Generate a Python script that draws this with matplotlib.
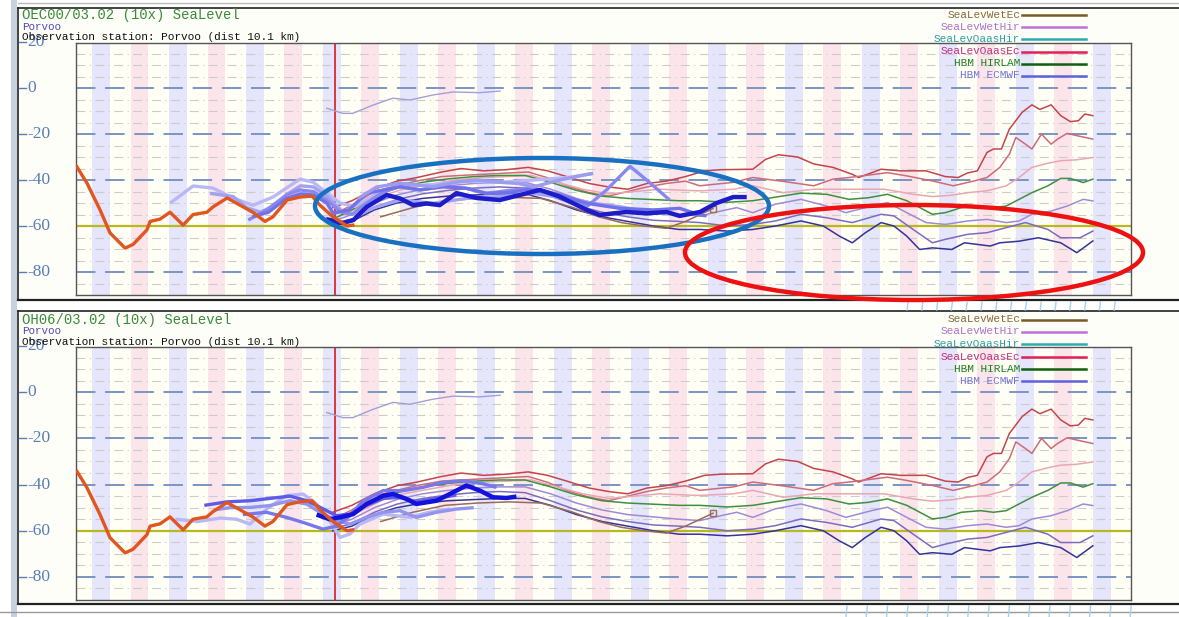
import numpy as np
import matplotlib
matplotlib.use('Agg')
import matplotlib.pyplot as plt
from matplotlib.patches import Ellipse, Rectangle
from matplotlib.transforms import blended_transform_factory

# time axis in hours (12 h between shaded bands), sea level in cm
t_max = 328.9
t_now = 80.7
y_ticks = [20, 0, -20, -40, -60, -80]
y_tick_labels = ['20', '0', '-20', '-40', '-60', '-80']

# observation (same in both panels)
obs_t = [0.3, 3.4, 7.5, 10.6, 15.3, 17.8, 22.1, 23.1, 26.2, 29.3, 33.4, 36.5, 40.8, 42.7,
         47.1, 51.1, 55.1, 58.9, 61.4, 65.8, 69.8, 73.6, 76.1, 80.1, 84.5, 86.3]
obs_v = [-34.3, -41.3, -53, -63, -69.6, -68, -61.7, -58, -57, -54, -59.6, -55, -54, -51.7,
         -47.8, -50.9, -54, -58, -56, -48.7, -47.4, -47, -51, -56, -60, -59.6]

# thin line near zero
thin_t = [78.2, 83.2, 86.3, 92.6, 98.8, 104.1, 111.3, 117.5, 125.9, 132.2]
thin_v = [-8.8, -11, -11, -7.4, -4.4, -5.2, -3, -1.7, -2, -1.3]

# forecast lines (shared by both panels)
fc_a_t = [80, 86, 93, 100, 106, 114, 120, 127, 134, 141, 147, 153, 160, 166, 172, 178, 184, 190,
          196, 201, 211, 215, 219, 225, 230, 236, 242, 244, 251, 257, 265, 271, 275, 278, 281,
          284, 286, 288.5, 291, 295, 298, 300.5, 304, 307, 310, 312.5, 314.5, 317]
fc_a_v = [-52, -49, -44, -40.5, -39, -36.5, -35, -36, -35.5, -34.5, -36, -38.5, -41.5, -43, -44,
          -41.5, -40.5, -38.5, -36, -35.5, -35.3, -31, -29, -30, -33, -34.5, -37.5, -38.9, -35.3,
          -36, -36, -38.5, -38.9, -36.9, -36, -28, -26.5, -26.5, -17.8, -10.5, -7.3, -9.3, -7.3,
          -12, -14.6, -14.2, -11.3, -12]
fc_b_t = [80, 86, 93, 100, 106, 114, 120, 127, 134, 141, 147, 153, 160, 166, 172, 178, 184, 190,
          194.5, 205, 211, 220, 230, 236, 241, 245, 253, 259, 267, 273.5, 280, 284, 288, 291, 293,
          296, 298, 301, 304, 306, 309, 312, 317]
fc_b_v = [-55, -51, -45, -42.5, -40.5, -38.5, -38, -37.5, -37, -36.5, -39, -42.5, -45.5, -47, -45,
          -43, -41.5, -40.5, -42.5, -41, -38.9, -40.5, -42.5, -39.6, -38.9, -38.2, -36.8, -38.2,
          -40.4, -42.5, -40.4, -38.9, -34.5, -28.7, -21.5, -24.4, -26.5, -20, -24.4, -22.2, -19.7,
          -20.7, -22.2]
fc_c_t = [82, 88, 95, 102, 110, 118, 126, 134, 142, 150, 158, 166, 174, 182, 190, 194.5, 205, 211,
          220.5, 230, 241, 252, 261, 267, 273, 278, 284, 290, 294, 298, 303, 307, 312, 317]
fc_c_v = [-56, -52, -47, -44, -42, -40, -39, -38.5, -38, -41, -44, -46, -45, -44, -44.5, -44.7, -44,
          -42.5, -45.5, -44, -44, -44, -46.2, -47.2, -46.6, -45.5, -44.7, -42.5, -38.9, -34.5,
          -32.7, -31.6, -31.2, -30.2]
fc_d_t = [80, 86, 93, 100, 108, 116, 124, 132, 140, 148, 156, 164, 172, 180, 188, 194.5, 203, 211,
          220.5, 226, 234, 241, 247, 253, 259, 267, 271, 276, 282, 286, 290, 294, 298, 303, 307,
          310, 314, 317]
fc_d_v = [-57, -53, -47, -43.5, -41, -39.5, -38.5, -38, -38, -41, -44.5, -47, -48, -48.5, -49, -49,
          -49.7, -49, -46.9, -45.7, -46.2, -48.4, -47.7, -46.2, -49, -54.9, -54.2, -52, -51.3, -52,
          -51.3, -48.4, -45.5, -42.5, -39.3, -39.3, -41.1, -39.6]
fc_e_t = [80, 86, 93, 100, 108, 116, 124, 132, 140, 148, 156, 164, 172, 180, 188, 194.5, 201, 206,
          211, 218, 226, 234, 240, 248, 253, 259, 265, 271, 278, 284, 290, 294, 298, 304, 309, 314,
          317]
fc_e_v = [-58, -55, -50, -46.5, -44, -42.5, -41.5, -41, -41, -44, -48, -51, -53, -54, -55, -55.6,
          -53.5, -52, -54.2, -50.5, -48.4, -51.3, -54.2, -51.3, -49.8, -54.2, -58.5, -59.3, -57.8,
          -57.1, -58.5, -57.8, -54.9, -53.5, -51.3, -48.4, -49.1]
fc_f_t = [80, 86, 93, 100, 108, 116, 124, 132, 140, 148, 156, 164, 172, 180, 188, 194.5, 203, 211,
          218, 226, 234, 242, 251, 255, 261, 267, 271, 278, 284, 290, 296, 303, 307, 313, 317]
fc_f_v = [-59, -57, -52, -48.5, -46, -44.5, -43.5, -43, -43.5, -47, -51, -54, -56, -57.5, -58,
          -58.5, -60, -59.3, -57.8, -54.9, -56.4, -58.5, -54.9, -55.6, -61.5, -67.3, -65.8, -63.6,
          -62.9, -60.7, -58.5, -61.5, -65.1, -65.1, -62.2]
fc_g_t = [80, 86, 93, 100, 108, 116, 124, 132, 140, 148, 156, 164, 172, 180, 188, 194.5, 203, 211,
          218, 226, 233, 238, 242, 246, 251, 255, 259, 263, 267, 273, 277, 281, 285, 288, 294, 300,
          307, 312, 317]
fc_g_v = [-60, -58, -53, -50, -48, -47, -46.5, -46, -46, -49, -53, -56, -58, -60, -61.5, -61.5,
          -62.2, -61.5, -60, -57.8, -60, -64.4, -67.3, -63, -58.5, -60, -64.4, -70.2, -69.5, -70.2,
          -67.3, -68, -68.7, -67.3, -66.6, -65.1, -67.3, -71.6, -66.5]
fc_h_t = [95, 105, 115, 125, 135, 145, 155, 163, 170, 177, 184, 190, 198.6]
fc_h_v = [-56, -52, -49, -48, -47.5, -48, -52, -56, -58.5, -60, -61, -58, -52.4]

fc_lines = [(fc_a_t, fc_a_v, '#c4444c'), (fc_b_t, fc_b_v, '#cf6a78'), (fc_c_t, fc_c_v, '#eaa6b4'),
            (fc_d_t, fc_d_v, '#3f8f3f'), (fc_e_t, fc_e_v, '#a08ad8'), (fc_f_t, fc_f_v, '#7c6cc0'),
            (fc_g_t, fc_g_v, '#33339a'), (fc_h_t, fc_h_v, '#9a6a5a')]

# earlier runs, upper panel (OEC00)
up_1_t = [29.3, 36.5, 42.7, 48.9, 55.2, 61.4, 69.8, 73.9, 78.2, 82.3, 87, 93.7, 101, 111.4, 121.7,
          132.1, 142.5, 152.9, 161.2]
up_1_v = [-50.1, -42.6, -43.5, -47.8, -51, -47.4, -39.6, -40.9, -45.6, -50, -51.5, -46, -42.5, -42,
          -40.5, -41, -40, -39, -37.1]
up_2_t = [41.8, 49, 53.2, 57.5, 62, 66, 70, 74, 78.2, 83.3, 88, 93.7, 101, 111.4, 121.7, 132.1,
          142.5, 152.9, 161.2, 169.5, 177.9, 184.1]
up_2_v = [-45.8, -47.2, -52, -54, -51, -46, -42.5, -43, -47, -54, -55, -51.6, -48.7, -50.1, -48,
          -47.2, -45.8, -48, -50.1, -51.6, -53.7, -54.5]
up_3_t = [53.7, 59.4, 65.6, 69.8, 74, 78.2, 82.3, 86, 90.6, 96, 101, 107.2, 114.5, 121.7, 128, 135,
          142.5, 150.8, 155, 159.2, 165.4, 172.7, 177.9, 185.1]
up_3_v = [-57.4, -53, -46.5, -44.3, -45, -48.7, -53.7, -55, -50, -45, -42.9, -44.3, -42.9, -43.6,
          -45.8, -44.5, -43.6, -46.5, -49, -51.6, -44.3, -34, -40, -48.7]
up_4_t = [55, 60, 65.6, 70, 74, 78.2, 80.2, 85, 90.6, 101, 107.2, 114.5, 121.7, 128, 135, 142.5,
          150.8, 159.2, 169.5, 180, 188.2, 194.5, 196.6]
up_4_v = [-56, -54, -48, -46, -46.5, -50, -54.5, -53, -45.8, -42.9, -44.3, -42.9, -43.6, -45.8,
          -45.5, -43.6, -46.5, -50.1, -52.3, -53, -52.3, -55.2, -55.6]
up_5_t = [88, 93.7, 101, 111.4, 118, 125, 132, 138, 142.5, 150.8, 156, 161.2]
up_5_v = [-48, -43, -41.4, -42.9, -41, -40, -41, -41.5, -43, -40, -38.5, -37.1]
up_6_t = [78, 83.1, 86.5, 90.6, 96.8, 101, 105.1, 109.3, 113.4, 118.6, 124.9, 132.1, 138.4, 144.6,
          150.8, 159.2, 163.3, 167.5, 171.6, 177.9, 184.1, 188.2, 194.5, 199.7, 204.9, 209.1]
up_6_v = [-57, -58.7, -57.4, -51.7, -46.5, -48, -50.9, -50.2, -50.9, -45.7, -47.8, -48.7, -46.5,
          -44.3, -47.2, -53, -55.2, -54.5, -53.9, -54.5, -53.9, -55.6, -53.9, -50, -47.4, -47.4]

# earlier runs, lower panel (OH06)
lo_1_t = [31, 38, 45, 50, 54.2, 59.4, 65.6, 70.8, 75, 79.1, 82.3, 85.4, 88.5, 95.8, 104.1, 110, 116.5]
lo_1_v = [-55, -56, -54.5, -55, -57.1, -50.6, -44.8, -44.1, -48.4, -55.7, -62.9, -61.4, -57.1, -52.8,
          -54.2, -52, -50.6]
lo_2_t = [43, 48, 54.2, 60.4, 66.7, 72, 77, 81.2, 85.4, 90.6, 95.8, 101, 106.1, 112.4, 118.6, 124]
lo_2_v = [-51, -50, -49.9, -49.1, -47, -48.5, -52.8, -55.7, -57.1, -54.2, -52, -51.3, -54.2, -52,
          -50.6, -50]
lo_3_t = [52, 59.4, 65.6, 70.8, 77, 81.2, 85, 89.5, 95.8, 102, 108.2, 114.5, 120.7, 127, 131.1]
lo_3_v = [-53, -52, -54.2, -56.4, -59.3, -58, -54, -47, -42.6, -42.6, -41.2, -39, -38.3, -39.7, -41.2]
lo_4_t = [40, 47, 54.2, 60.4, 66.7, 72, 77, 81.2, 85.4, 90.6, 95.8, 101, 106.1, 112.4, 118.6]
lo_4_v = [-49, -47.5, -47, -46, -45, -47, -50.5, -53.5, -52.8, -49, -46, -45.5, -47.5, -46, -44.5]
lo_5_t = [75, 79, 82.3, 86.4, 90.6, 95.8, 98.9, 103, 106.1, 112.4, 116.5, 121.7, 125.9, 130, 134.2,
          137.3]
lo_5_v = [-53, -55, -54.2, -52.8, -48.4, -44.8, -44.1, -46.2, -48.4, -47, -44.1, -40.4, -42.6, -45.5,
          -45.8, -45.2]

upper_runs = [(up_1_t, up_1_v, '#b8b8f6', 2.4), (up_2_t, up_2_v, '#a2a2f2', 2.4),
              (up_3_t, up_3_v, '#8888ee', 2.4), (up_4_t, up_4_v, '#7272e8', 2.4),
              (up_5_t, up_5_v, '#9c9cf0', 2.4), (up_6_t, up_6_v, '#1c1cc8', 3.2)]
lower_runs = [(lo_1_t, lo_1_v, '#b8b8f6', 2.4), (lo_2_t, lo_2_v, '#9494ef', 2.4),
              (lo_3_t, lo_3_v, '#7878ea', 2.4), (lo_4_t, lo_4_v, '#5c5ce6', 2.4),
              (lo_5_t, lo_5_v, '#1212dc', 3.2)]

legend_names = ['SeaLevWetEc', 'SeaLevWetHir', 'SeaLevOaasHir', 'SeaLevOaasEc', 'HBM HIRLAM', 'HBM ECMWF']
legend_text_colors = ['#8a6a3a', '#b070c8', '#30a0a0', '#c03080', '#208020', '#7474d4']
legend_line_colors = ['#7a5a28', '#c070d8', '#30a8b0', '#e0205a', '#106010', '#6060e0']

titles = ['OEC00/03.02 (10x) SeaLevel', 'OH06/03.02 (10x) SeaLevel']

W, H = 1179, 617
fig = plt.figure(figsize=(W / 100, H / 100), dpi=100)
fig.patch.set_facecolor('white')

# background frame layer (pixel coordinates)
bg = fig.add_axes([0, 0, 1, 1], zorder=0)
bg.set_xlim(0, W); bg.set_ylim(H, 0); bg.axis('off')
bg.add_patch(Rectangle((11, 0), 6, H, fc='#c8d0de', ec='none'))
for top, bot in [(8, 300), (311, 604)]:
    bg.add_patch(Rectangle((18, top), W - 18, bot - top, fc='#fefef8', ec='none'))
    bg.plot([18, W], [top, top], color='#222222', lw=1.2)
    bg.plot([18, W], [bot, bot], color='#222222', lw=1.6)
    bg.plot([18, 18], [top, bot], color='#222222', lw=1.2)
bg.plot([0, W], [612, 612], color='#999999', lw=1)
bg.plot([18, W], [3, 3], color='#bbbbbb', lw=1)
for x in np.arange(908, 1120, 14.8):
    bg.plot([x - 1, x], [310, 302], color='#a8d0f0', lw=1)
for x in np.arange(847, 1135, 20.3):
    bg.plot([x - 1, x], [617, 606], color='#a8d0f0', lw=1)


def draw_panel(ax, runs):
    ax.set_facecolor('#fffff6')
    ax.set_xlim(0, t_max)
    ax.set_ylim(-90, 19.6)
    k = 0
    start = 5.0
    while start < t_max:
        ax.axvspan(start, start + 5.6, color='#e5e5fb' if k % 2 == 0 else '#fbe5ea', lw=0, zorder=0)
        start += 12
        k += 1
    for v in range(15, -90, -5):
        if v % 20:
            ax.axhline(v, color='#cccccc', lw=0.8, ls=(0, (8, 4, 1, 4)), zorder=1)
    for v in [0, -20, -40, -80]:
        ax.axhline(v, color='#7b94c2', lw=1.4, ls=(0, (10, 5)), zorder=1)
    ax.axhline(-60, color='#b8b820', lw=1.6, zorder=2)
    ax.axvline(t_now, color='#dc2a2a', lw=1.3, zorder=2)

    ax.plot(thin_t, thin_v, color='#a49ed8', lw=1, zorder=3)
    for t, v, c in fc_lines:
        ax.plot(t, v, color=c, lw=1.1, zorder=3)
    ax.plot(fc_h_t[-1:], fc_h_v[-1:], 's', mfc='none', mec='#a07050', ms=4, zorder=4)
    for t, v, c, lw in runs:
        ax.plot(t, v, color=c, lw=lw, zorder=4, solid_capstyle='butt')
    ax.plot(obs_t, obs_v, color='#e0561e', lw=2.4, zorder=5)

    ax.set_xticks([]); ax.set_yticks([])
    for s in ax.spines.values():
        s.set_color('#555555'); s.set_linewidth(1)

    tr = blended_transform_factory(fig.transFigure, ax.transData)
    for val, lab in zip(y_ticks, y_tick_labels):
        ax.plot([19 / W, 26 / W], [val, val], color='#5a7db5', lw=1, transform=tr, clip_on=False)
        ax.text(27 / W, val, lab, transform=tr, ha='left', va='center', color='#5a7db5',
                fontsize=12.5, family='Liberation Serif')


ax1 = fig.add_axes([76 / W, 1 - 295 / H, 1055 / W, 252 / H], zorder=1)
draw_panel(ax1, upper_runs)
ax2 = fig.add_axes([76 / W, 1 - 600 / H, 1055 / W, 253 / H], zorder=1)
draw_panel(ax2, lower_runs)

# foreground layer: headers, legends, annotation ellipses
fg = fig.add_axes([0, 0, 1, 1], zorder=10)
fg.set_xlim(0, W); fg.set_ylim(H, 0); fg.axis('off')
fg.patch.set_alpha(0)
legend_rows = [14.5, 26.5, 39, 51.5, 63.5, 75.5]
for off, title in zip([0, 305], titles):
    fg.text(22, 15 + off, title, color='#3a8a3a', fontsize=10, family='Liberation Mono', va='center')
    fg.text(22, 26.5 + off, 'Porvoo', color='#5048b0', fontsize=7.8, family='Liberation Mono',
            va='center')
    fg.text(22, 37 + off, 'Observation station: Porvoo (dist 10.1 km)', color='#111111', fontsize=8,
            family='Liberation Mono', va='center')
    for ry, name, tc, lc in zip(legend_rows, legend_names, legend_text_colors, legend_line_colors):
        fg.text(1020, ry + off, name, color=tc, fontsize=8, family='Liberation Mono',
                ha='right', va='center')
        fg.plot([1022, 1086], [ry + off, ry + off], color=lc, lw=1.8)

fg.add_patch(Ellipse((542, 206), 454, 96, fill=False, ec='#1a70c0', lw=3.2, clip_on=False))
fg.add_patch(Ellipse((914, 252.5), 458, 95, fill=False, ec='#ee1111', lw=3.2, clip_on=False))

fig.savefig('out.png', dpi=100)
